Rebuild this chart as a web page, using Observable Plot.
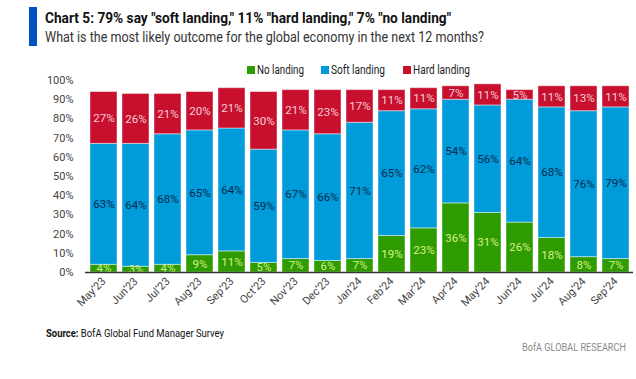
<!DOCTYPE html>
<html><head><meta charset="utf-8">
<script src="https://cdn.jsdelivr.net/npm/d3@7"></script>
<script src="https://cdn.jsdelivr.net/npm/@observablehq/plot@0.6"></script>
<style>
body{margin:0;background:#fff;font-family:Roboto,"Open Sans",sans-serif;}
#wrap{position:relative;width:636px;height:379px;overflow:hidden;background:#fff;}
.abs{position:absolute;white-space:nowrap;transform-origin:0 0;}
#chart{position:absolute;left:0;top:0;}
.sw{position:absolute;width:8px;height:8px;}
</style></head><body><div id="wrap">
<div id="chart"></div>
<div class="abs" style="left:29px;top:7px;width:8px;height:39px;background:#0052c4"></div>
<div class="abs fit" data-w="406" style="left:45px;top:11px;font-weight:700;font-size:15px;line-height:15px;color:#111">Chart 5: 79% say "soft landing," 11% "hard landing," 7% "no landing"</div>
<div class="abs fit" data-w="439" style="left:45px;top:30px;font-size:14px;line-height:14px;color:#333">What is the most likely outcome for the global economy in the next 12 months?</div>
<div id="legend"></div>
<div class="abs fit" data-w="178" style="left:46px;top:328px;font-size:11px;line-height:11px;color:#111"><b>Source:</b> BofA Global Fund Manager Survey</div>
<div class="abs fit" data-w="104" style="left:522px;top:342px;font-size:11px;line-height:11px;color:#8a8a8a">BofA GLOBAL RESEARCH</div>
</div>
<script>
const months = ["May’23","Jun’23","Jul’23","Aug’23","Sep’23","Oct’23","Nov’23","Dec’23","Jan’24","Feb’24","Mar’24","Apr’24","May’24","Jun’24","Jul’24","Aug’24","Sep’24"];
const noLanding   = [4,3,4,9,11,5,7,6,7,19,23,36,31,26,18,8,7];
const softLanding = [63,64,68,65,64,59,67,66,71,65,62,54,56,64,68,76,79];
const hardLanding = [27,26,21,20,21,30,21,23,17,11,11,7,11,5,11,13,11];
const series = ["No landing","Soft landing","Hard landing"];
const colors = ["#2e9c00","#009bdb","#c8102e"];
const labelColors = ["#d6f08a","#0b2a4a","#f6cdd5"];
const legendX = [247,321,403];
const legendW = [47,54,57];

const values = [noLanding, softLanding, hardLanding];
const rows = [];
months.forEach((m,i)=>series.forEach((s,j)=>rows.push({month:m, series:s, value:values[j][i]})));

const textMarks = series.map((s,j)=>Plot.text(rows, Plot.stackY({
  x:"month", y:"value", z:"series", order:series,
  text:d=>d.series===s ? d.value+"%" : "",
  fill:labelColors[j], fontSize:11.5
})));

const plot = Plot.plot({
  width:636, height:330, marginTop:80, marginBottom:58, marginLeft:85, marginRight:3,
  style:{fontFamily:"Roboto", fontSize:"11px", color:"#444", background:"transparent"},
  x:{domain:months, paddingInner:0.16, paddingOuter:0.08, label:null, tickSize:0, tickRotate:-45, tickPadding:7},
  y:{domain:[0,100], ticks:d3.range(0,101,10), tickFormat:d=>d+"%", label:null, tickSize:0, tickPadding:12},
  color:{domain:series, range:colors},
  marks:[
    Plot.barY(rows, {x:"month", y:"value", z:"series", fill:"series", order:series, stroke:"white", strokeOpacity:0.45, strokeWidth:1}),
    ...textMarks,
    Plot.ruleY([0], {stroke:"#333", strokeWidth:1.5})
  ]
});
document.getElementById("chart").appendChild(plot);

const legend = document.getElementById("legend");
series.forEach((s,j)=>{
  const sw = document.createElement("div");
  sw.className="sw"; sw.style.left=legendX[j]+"px"; sw.style.top="66px"; sw.style.background=colors[j];
  legend.appendChild(sw);
  const t = document.createElement("div");
  t.className="abs fit"; t.dataset.w=legendW[j]; t.textContent=s;
  t.style.left=(legendX[j]+10)+"px"; t.style.top="64px"; t.style.fontSize="12px"; t.style.lineHeight="12px"; t.style.color="#222";
  legend.appendChild(t);
});

function fit(){
  document.querySelectorAll(".fit").forEach(el=>{
    el.style.transform="none";
    const w = el.getBoundingClientRect().width;
    el.style.transform=`scaleX(${(+el.dataset.w)/w})`;
  });
}
fit();
if (document.fonts) document.fonts.ready.then(fit);
</script>
</body></html>
